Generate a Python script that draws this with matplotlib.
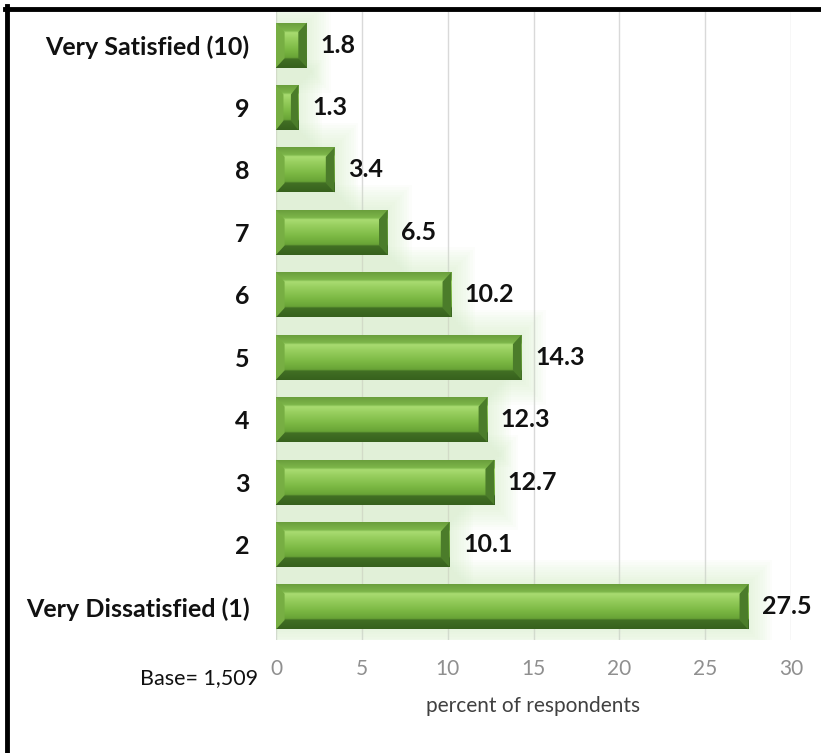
import numpy as np
import matplotlib
matplotlib.use("Agg")
import matplotlib.pyplot as plt
from matplotlib.colors import LinearSegmentedColormap
from matplotlib.patches import Polygon, Rectangle
from matplotlib.lines import Line2D

# satisfaction scale, bottom to top
categories = ["Very Dissatisfied (1)", "2", "3", "4", "5", "6", "7", "8", "9", "Very Satisfied (10)"]
values = [27.5, 10.1, 12.7, 12.3, 14.3, 10.2, 6.5, 3.4, 1.3, 1.8]
x_ticks = [0, 5, 10, 15, 20, 25, 30]
base_note = "Base= 1,509"
x_label = "percent of respondents"

plt.rcParams["font.family"] = ["Lato", "DejaVu Sans"]

fig = plt.figure(figsize=(8.21, 7.53), dpi=100)
ax = fig.add_axes([0.3362, 0.150, 0.6273, 0.834])

# vertical shading of a bevelled bar (top row first)
bar_cmap = LinearSegmentedColormap.from_list("bevel", [
    (0.00, "#6a9e3c"),
    (0.17, "#7db64a"),
    (0.21, "#a9dc72"),
    (0.34, "#98cf5f"),
    (0.60, "#7ab742"),
    (0.77, "#68a336"),
    (0.80, "#416f24"),
    (1.00, "#37611d"),
])
grad = np.linspace(0, 1, 200).reshape(-1, 1)

bar_h = 0.72
bev_x = 0.5   # data units (~9 px)
bev_y = 0.15

ypos = np.arange(len(categories))

for y, v in zip(ypos, values):
    yb, yt = y - bar_h / 2, y + bar_h / 2
    # soft glow behind the bar
    for k in range(1, 11):
        mx, my = 0.14 * k, 0.04 * k
        ax.add_patch(Rectangle((0, yb - my), v + mx, bar_h + 2 * my,
                               facecolor="#d2ecc3", edgecolor="none",
                               alpha=0.06, zorder=1))
    ax.imshow(grad, cmap=bar_cmap, aspect="auto", origin="upper",
              extent=(0, v, yb, yt), zorder=3, interpolation="bilinear")
    bx = min(bev_x, v / 3)
    ax.add_patch(Polygon([(0, yb), (bx, yb + bev_y), (bx, yt - bev_y), (0, yt)],
                         closed=True, facecolor="#77ae43", edgecolor="none", zorder=4))
    ax.add_patch(Polygon([(v, yb), (v - bx, yb + bev_y), (v - bx, yt - bev_y), (v, yt)],
                         closed=True, facecolor="#4b7c2a", edgecolor="none", zorder=4))
    ax.text(v + 0.8, y, f"{v:.1f}", ha="left", va="center", fontsize=18,
            fontweight="bold", color="#111111", zorder=5)

ax.set_xlim(0, 30)
ax.set_ylim(-0.53, len(categories) - 0.47)
ax.set_xticks(x_ticks)
ax.set_xticklabels([str(t) for t in x_ticks], fontsize=15, color="#8f8f8f")
ax.set_yticks(ypos)
ax.set_yticklabels(categories, fontsize=18, fontweight="bold", color="#111111")
ax.tick_params(axis="x", length=0, pad=14)
ax.tick_params(axis="y", length=0, pad=19)
ax.xaxis.grid(True, color="#d9d9d9", linewidth=1, zorder=0)
ax.set_axisbelow(True)
for s in ax.spines.values():
    s.set_visible(False)
ax.set_xlabel(x_label, fontsize=15, color="#404040", labelpad=12)

fig.text(258 / 821, 1 - 678 / 753, base_note, ha="right", va="center",
         fontsize=15.5, color="#111111")

# black frame on left and top
fig.add_artist(Line2D([7 / 821, 7 / 821], [0, 1 - 6 / 753], color="black",
                      linewidth=3.5, transform=fig.transFigure))
fig.add_artist(Line2D([5 / 821, 1], [1 - 8.5 / 753, 1 - 8.5 / 753], color="black",
                      linewidth=3.5, transform=fig.transFigure))

fig.savefig("out.png", dpi=100)
